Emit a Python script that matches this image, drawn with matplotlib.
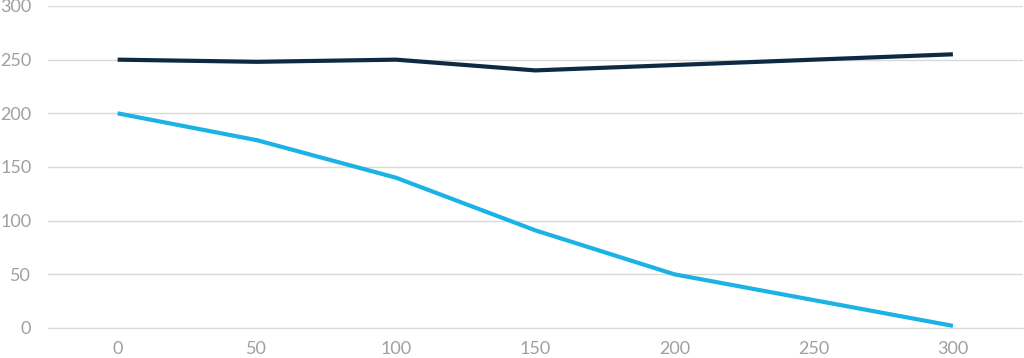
import matplotlib.pyplot as plt

x_vals = [0, 50, 100, 150, 200, 250, 300]
dark_series = [250, 248, 250, 240, 245, 250, 255]
cyan_series = [200, 175, 140, 91, 50, 26, 2]
y_ticks = [0, 50, 100, 150, 200, 250, 300]

plt.rcParams['font.family'] = ['Lato', 'DejaVu Sans']

fig = plt.figure(figsize=(10.24, 3.58), dpi=100)
ax = fig.add_axes([48 / 1024, 1 - 328 / 358, (1022.5 - 48) / 1024, (328 - 6) / 358])

ax.plot(x_vals, dark_series, color='#0d2a42', lw=3, solid_capstyle='butt', zorder=3)
ax.plot(x_vals, cyan_series, color='#1bb3e6', lw=3, solid_capstyle='butt', zorder=3)

ax.set_xlim(-25, 325)
ax.set_ylim(0, 300)
ax.set_xticks(x_vals)
ax.set_yticks(y_ticks)
ax.yaxis.grid(True, color='#d9d9d9', lw=1)
ax.set_axisbelow(True)
for s in ax.spines.values():
    s.set_visible(False)
ax.spines['bottom'].set_visible(True)
ax.spines['bottom'].set_color('#d9d9d9')
ax.tick_params(axis='both', length=0, labelsize=13, labelcolor='#a0a0a0')
ax.tick_params(axis='y', pad=12)
ax.tick_params(axis='x', pad=9)

fig.savefig('out.png', dpi=100)
